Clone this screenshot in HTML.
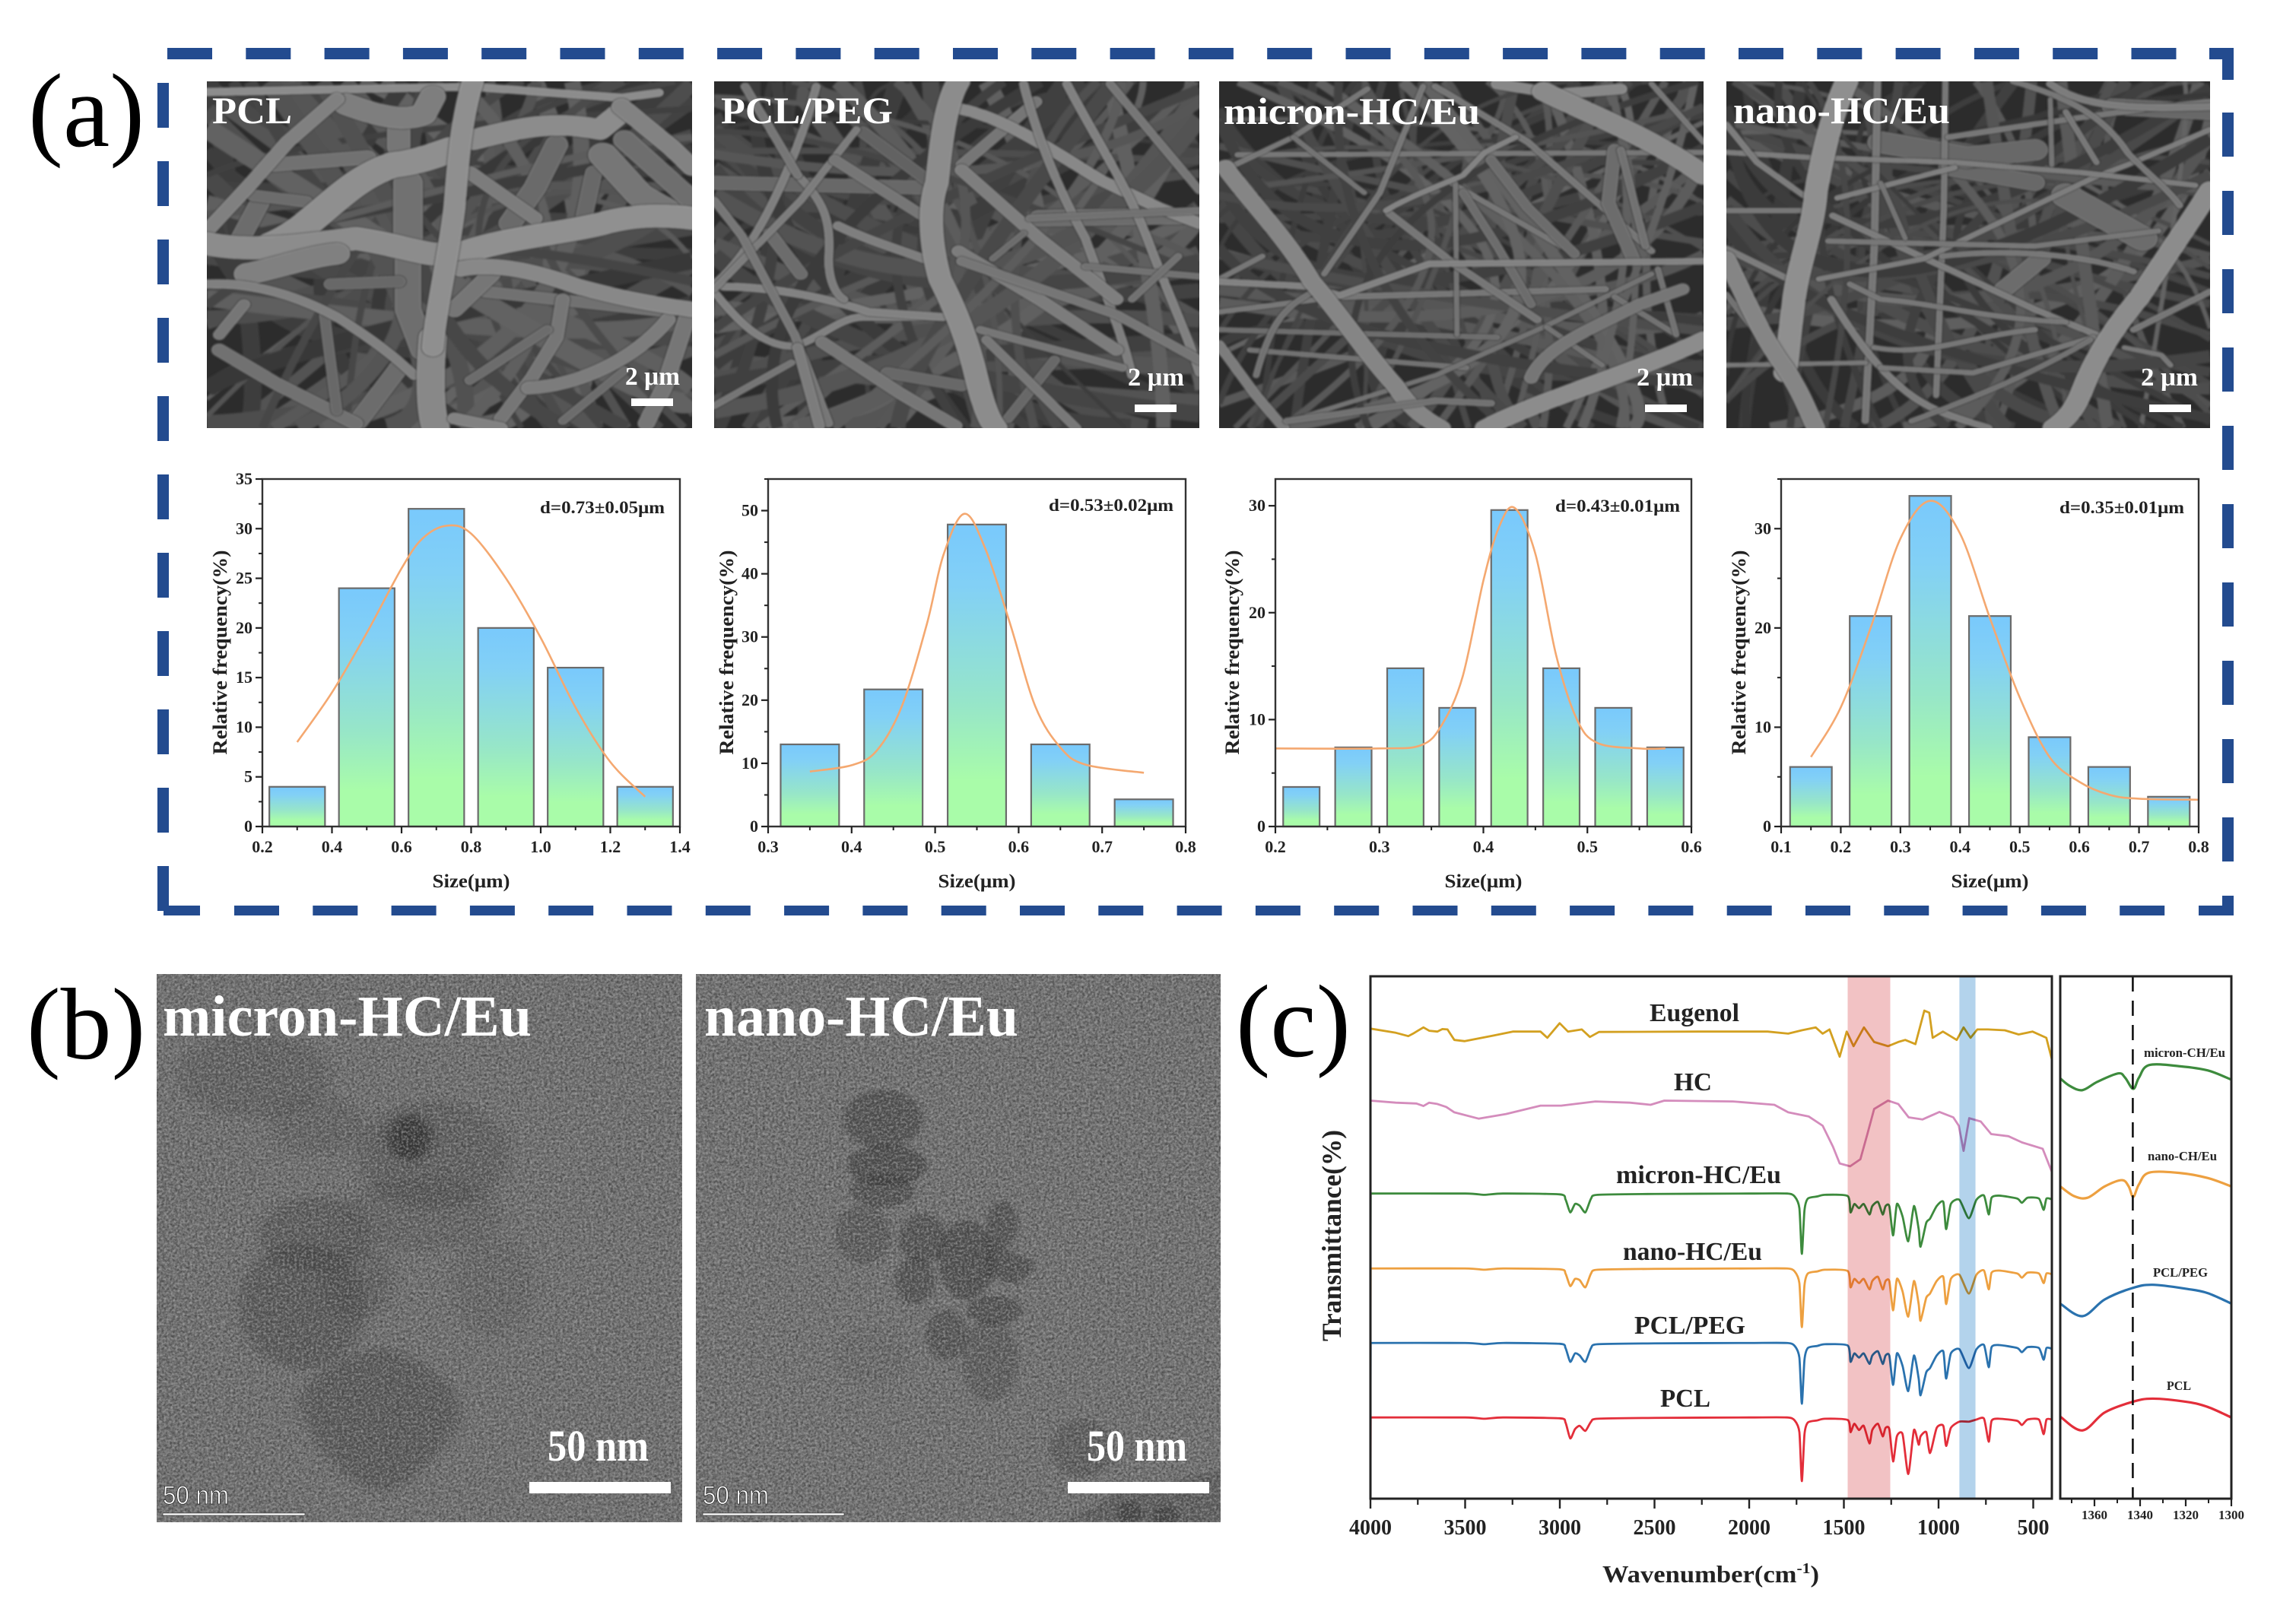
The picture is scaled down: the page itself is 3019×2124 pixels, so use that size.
<!DOCTYPE html>
<html>
<head>
<meta charset="utf-8">
<title>PCL / HC-Eu fibre characterisation figure</title>
<style>
html,body{margin:0;padding:0;background:#fff;width:3019px;height:2124px;overflow:hidden}
svg{display:block}
text{font-family:"Liberation Serif",serif}
.b{font-weight:bold}
.w{fill:#fff;font-weight:bold}
</style>
</head>
<body>
<svg id="root" width="3019" height="2124" viewBox="0 0 3019 2124" xmlns="http://www.w3.org/2000/svg">
<defs>
  <linearGradient id="barGrad" x1="0" y1="0" x2="0" y2="1">
    <stop offset="0" stop-color="#79c9fc"/>
    <stop offset="0.2" stop-color="#82d0f6"/>
    <stop offset="0.6" stop-color="#97e6c8"/>
    <stop offset="0.85" stop-color="#a9fca9"/>
    <stop offset="1" stop-color="#a9fca9"/>
  </linearGradient>
  <filter id="noise" x="0" y="0" width="100%" height="100%" color-interpolation-filters="sRGB">
    <feTurbulence type="fractalNoise" baseFrequency="0.3" numOctaves="2" seed="4"/>
    <feColorMatrix type="matrix" values="0 0 0 0 0.25  0 0 0 0 0.25  0 0 0 0 0.25  1.7 0 0 0 -0.55"/>
  </filter>
  <filter id="noiseLight" x="0" y="0" width="100%" height="100%" color-interpolation-filters="sRGB">
    <feTurbulence type="fractalNoise" baseFrequency="0.32" numOctaves="2" seed="11"/>
    <feColorMatrix type="matrix" values="0 0 0 0 0.68  0 0 0 0 0.68  0 0 0 0 0.68  1.5 0 0 0 -0.6"/>
  </filter>
  <filter id="soft"><feGaussianBlur stdDeviation="7"/></filter>
  <filter id="softSmall"><feGaussianBlur stdDeviation="3"/></filter>
  <filter id="semBlur"><feGaussianBlur stdDeviation="1.3"/></filter>
  <clipPath id="clipSem1"><rect x="272" y="107" width="638" height="456"/></clipPath>
  <clipPath id="clipSem2"><rect x="939" y="107" width="638" height="456"/></clipPath>
  <clipPath id="clipSem3"><rect x="1603" y="107" width="637" height="456"/></clipPath>
  <clipPath id="clipSem4"><rect x="2270" y="107" width="636" height="456"/></clipPath>
  <clipPath id="clipTem1"><rect x="206" y="1281" width="691" height="721"/></clipPath>
  <clipPath id="clipTem2"><rect x="915" y="1281" width="690" height="721"/></clipPath>
  <clipPath id="clipMain"><rect x="1802" y="1284" width="896" height="687"/></clipPath>
  <clipPath id="clipInset"><rect x="2709" y="1284" width="225" height="687"/></clipPath>
</defs>

<g id="frame"></g>

<text x="37" y="192" font-size="138">(a)</text>
<text x="35" y="1392" font-size="134">(b)</text>
<text x="1625" y="1389" font-size="136">(c)</text>

<g><rect x="272" y="107" width="638" height="456" fill="#2c2c2c"/><g id="sem1" clip-path="url(#clipSem1)" filter="url(#semBlur)"></g></g>
<g><rect x="939" y="107" width="638" height="456" fill="#2c2c2c"/><g id="sem2" clip-path="url(#clipSem2)" filter="url(#semBlur)"></g></g>
<g><rect x="1603" y="107" width="637" height="456" fill="#2c2c2c"/><g id="sem3" clip-path="url(#clipSem3)" filter="url(#semBlur)"></g></g>
<g><rect x="2270" y="107" width="636" height="456" fill="#2c2c2c"/><g id="sem4" clip-path="url(#clipSem4)" filter="url(#semBlur)"></g></g>

<text class="w" x="279" y="162" font-size="50" textLength="105" lengthAdjust="spacingAndGlyphs">PCL</text>
<text class="w" x="948" y="162" font-size="50" textLength="226" lengthAdjust="spacingAndGlyphs">PCL/PEG</text>
<text class="w" x="1609" y="163" font-size="50" textLength="337" lengthAdjust="spacingAndGlyphs">micron-HC/Eu</text>
<text class="w" x="2279" y="162" font-size="50" textLength="285" lengthAdjust="spacingAndGlyphs">nano-HC/Eu</text>

<text class="w" x="822" y="506" font-size="34" textLength="72" lengthAdjust="spacingAndGlyphs">2 μm</text>
<rect x="830" y="524" width="55" height="10" fill="#fff"/>
<text class="w" x="1483" y="507" font-size="34" textLength="74" lengthAdjust="spacingAndGlyphs">2 μm</text>
<rect x="1492" y="532" width="55" height="10" fill="#fff"/>
<text class="w" x="2152" y="507" font-size="34" textLength="74" lengthAdjust="spacingAndGlyphs">2 μm</text>
<rect x="2163" y="532" width="55" height="10" fill="#fff"/>
<text class="w" x="2815" y="507" font-size="34" textLength="75" lengthAdjust="spacingAndGlyphs">2 μm</text>
<rect x="2826" y="532" width="55" height="10" fill="#fff"/>

<g id="hist1"></g>
<g id="hist2"></g>
<g id="hist3"></g>
<g id="hist4"></g>

<g>
  <rect x="206" y="1281" width="691" height="721" fill="#767676"/>
  <g clip-path="url(#clipTem1)">
    <g transform="translate(0,1260) scale(1.046,0.551)" filter="url(#soft)" fill="#383838">
      <ellipse cx="320" cy="280" rx="95" ry="100" opacity="0.28"/>
      <ellipse cx="400" cy="400" rx="60" ry="70" opacity="0.22"/>
      <ellipse cx="545" cy="470" rx="95" ry="130" opacity="0.3"/>
      <ellipse cx="515" cy="430" rx="28" ry="55" fill="#1c1c1c" opacity="0.7"/>
      <ellipse cx="530" cy="610" rx="100" ry="90" opacity="0.22"/>
      <ellipse cx="395" cy="660" rx="70" ry="90" opacity="0.38"/>
      <ellipse cx="380" cy="830" rx="80" ry="150" opacity="0.44"/>
      <ellipse cx="450" cy="770" rx="45" ry="90" opacity="0.28"/>
      <ellipse cx="620" cy="780" rx="50" ry="120" opacity="0.15"/>
      <path d="M480 930 C560 970 590 1060 575 1120 C550 1190 510 1270 480 1275 C440 1260 395 1170 378 1080 C370 1010 420 950 480 930Z" opacity="0.42"/>
    </g>
    <rect x="206" y="1281" width="691" height="721" filter="url(#noise)"/>
    <rect x="206" y="1281" width="691" height="721" filter="url(#noiseLight)"/>
  </g>
</g>
<g>
  <rect x="915" y="1281" width="690" height="721" fill="#787878"/>
  <g clip-path="url(#clipTem2)">
    <g transform="translate(0,1260) scale(1.046,0.551)" filter="url(#softSmall)" fill="#2c2c2c">
      <ellipse cx="1110" cy="385" rx="50" ry="70" opacity="0.48"/>
      <ellipse cx="1115" cy="495" rx="50" ry="50" opacity="0.52"/>
      <ellipse cx="1110" cy="555" rx="40" ry="40" opacity="0.48"/>
      <ellipse cx="1085" cy="660" rx="35" ry="70" opacity="0.32"/>
      <ellipse cx="1160" cy="670" rx="30" ry="60" opacity="0.46"/>
      <ellipse cx="1215" cy="720" rx="35" ry="95" opacity="0.54"/>
      <path d="M1240 670 L1305 730 L1280 780 L1240 760Z" opacity="0.48"/>
      <ellipse cx="1260" cy="635" rx="20" ry="55" opacity="0.46"/>
      <ellipse cx="1150" cy="770" rx="25" ry="55" opacity="0.46"/>
      <ellipse cx="1190" cy="900" rx="26" ry="60" opacity="0.42"/>
      <ellipse cx="1250" cy="840" rx="35" ry="35" opacity="0.46"/>
      <ellipse cx="1245" cy="960" rx="35" ry="100" opacity="0.3"/>
      <ellipse cx="1095" cy="950" rx="45" ry="70" opacity="0.1"/>
      <ellipse cx="1360" cy="1170" rx="40" ry="70" opacity="0.3"/>
      <path d="M1340 1345 L1400 1280 L1535 1220 L1535 1345Z" opacity="0.3"/>
      <ellipse cx="1420" cy="1325" rx="16" ry="30" opacity="0.55"/>
      <ellipse cx="1465" cy="1330" rx="16" ry="25" opacity="0.55"/>
    </g>
    <rect x="915" y="1281" width="690" height="721" filter="url(#noise)"/>
    <rect x="915" y="1281" width="690" height="721" filter="url(#noiseLight)"/>
  </g>
</g>
<text class="w" x="214" y="1362" font-size="76" textLength="485" lengthAdjust="spacingAndGlyphs">micron-HC/Eu</text>
<text class="w" x="926" y="1362" font-size="76" textLength="413" lengthAdjust="spacingAndGlyphs">nano-HC/Eu</text>
<text class="w" x="720" y="1921" font-size="58" textLength="133" lengthAdjust="spacingAndGlyphs">50 nm</text>
<rect x="696" y="1949" width="186" height="15" fill="#fff"/>
<text class="w" x="1429" y="1921" font-size="58" textLength="132" lengthAdjust="spacingAndGlyphs">50 nm</text>
<rect x="1404" y="1949" width="186" height="15" fill="#fff"/>
<text x="214" y="1978" font-size="34" fill="#fff" stroke="#222" stroke-width="0.8" textLength="87" lengthAdjust="spacingAndGlyphs" style="font-family:'Liberation Sans',sans-serif">50 nm</text>
<rect x="214" y="1990" width="187" height="3" fill="#fff" stroke="#222" stroke-width="0.6"/>
<text x="924" y="1978" font-size="34" fill="#fff" stroke="#222" stroke-width="0.8" textLength="87" lengthAdjust="spacingAndGlyphs" style="font-family:'Liberation Sans',sans-serif">50 nm</text>
<rect x="924" y="1990" width="186" height="3" fill="#fff" stroke="#222" stroke-width="0.6"/>

<g id="ftir"></g>
<g id="inset"></g>

<script>
// ---------- Histogram data ----------
const pclBins = [0.3, 0.5, 0.7, 0.9, 1.1, 1.3];
const pclFreq = [4, 24, 32, 20, 16, 4];
const pclFitX = [0.3, 0.4, 0.5, 0.6, 0.66, 0.73, 0.8, 0.9, 1.0, 1.1, 1.2, 1.3];
const pclFitY = [8.5, 13.5, 19.5, 26, 29, 30.3, 29.5, 25, 19, 12, 6.5, 3];
const pclXTicks = ["0.2", "0.4", "0.6", "0.8", "1.0", "1.2", "1.4"];
const pclYTicks = [0, 5, 10, 15, 20, 25, 30, 35];

const pegBins = [0.35, 0.45, 0.55, 0.65, 0.75];
const pegFreq = [13, 21.7, 47.8, 13, 4.3];
const pegFitX = [0.35, 0.4, 0.43, 0.46, 0.49, 0.51, 0.535, 0.56, 0.59, 0.62, 0.65, 0.68, 0.75];
const pegFitY = [8.7, 9.7, 12, 19, 32, 43, 49.5, 44, 32, 19, 12.5, 9.8, 8.5];
const pegXTicks = ["0.3", "0.4", "0.5", "0.6", "0.7", "0.8"];
const pegYTicks = [0, 10, 20, 30, 40, 50];

const micronBins = [0.225, 0.275, 0.325, 0.375, 0.425, 0.475, 0.525, 0.575];
const micronFreq = [3.7, 7.4, 14.8, 11.1, 29.6, 14.8, 11.1, 7.4];
const micronFitX = [0.2, 0.3, 0.34, 0.36, 0.38, 0.4, 0.415, 0.43, 0.45, 0.47, 0.49, 0.51, 0.55, 0.575];
const micronFitY = [7.3, 7.3, 7.6, 9.5, 14, 23, 28, 29.8, 25.5, 16, 10, 7.8, 7.3, 7.3];
const micronXTicks = ["0.2", "0.3", "0.4", "0.5", "0.6"];
const micronYTicks = [0, 10, 20, 30];

const nanoBins = [0.15, 0.25, 0.35, 0.45, 0.55, 0.65, 0.75];
const nanoFreq = [6, 21.2, 33.3, 21.2, 9, 6, 3];
const nanoFitX = [0.15, 0.2, 0.25, 0.3, 0.35, 0.4, 0.45, 0.5, 0.55, 0.6, 0.65, 0.7, 0.8];
const nanoFitY = [7, 12, 20, 29, 32.8, 29.5, 21, 13, 7, 4.5, 3.2, 2.8, 2.7];
const nanoXTicks = ["0.1", "0.2", "0.3", "0.4", "0.5", "0.6", "0.7", "0.8"];
const nanoYTicks = [0, 10, 20, 30];

// ---------- FTIR data: wavenumber (cm-1) and arbitrary offset transmittance ----------
const ftirWave = [4000,3999,3500,3400,3300,3000,2970,2945,2920,2895,2865,2835,2800,2500,2000,1800,1760,1735,1722,1708,1690,1640,1600,1480,1465,1445,1420,1395,1365,1350,1320,1295,1280,1260,1240,1220,1190,1160,1130,1105,1095,1065,1045,1010,975,960,935,890,840,800,760,735,720,680,585,560,530,470,445,430,401,400];
const ftirPCL = [24,194,194,191,194,192,182,144,166,174,162,184,191,193,194,194,187,159,42,154,182,187,191,188,159,179,164,174,132,164,179,149,169,166,89,149,154,59,164,129,149,159,109,169,174,126,169,184,184,189,191,136,186,191,186,176,189,189,154,189,189,24];
const ftirPEG = [196,372,372,369,372,370,360,327,347,342,327,360,369,371,372,372,365,337,227,332,360,365,369,366,327,347,337,347,322,342,352,322,342,342,272,347,317,257,342,287,247,302,312,342,352,287,347,357,312,357,367,314,362,367,360,350,362,360,332,360,358,196];
const ftirNano = [376,550,550,547,550,548,538,508,525,522,505,538,547,549,550,550,543,515,410,510,538,543,547,544,505,525,515,525,500,520,530,500,520,520,450,525,495,435,520,465,425,480,490,520,530,465,525,535,490,535,545,500,540,545,538,528,540,538,515,538,536,376];
const ftirMicron = [551,729,729,726,729,727,715,684,704,700,684,717,726,728,729,729,722,694,585,689,717,722,726,723,684,704,694,704,679,699,709,679,699,699,629,704,674,615,699,644,602,659,669,699,709,644,704,714,670,714,724,679,719,724,717,707,719,717,690,717,715,551];
const hcWave = [4000,3866,3757,3720,3690,3647,3600,3557,3429,3284,3102,2993,2812,2630,2521,2448,2085,1867,1794,1685,1612,1558,1522,1467,1413,1376,1340,1267,1213,1158,1085,995,922,893,868,838,777,722,631,559,450,402,400];
const ftirHC = [951,946,944,938,946,943,936,923,908,919,939,939,949,946,941,951,949,941,923,913,891,841,801,794,811,871,931,951,943,911,906,924,911,891,831,909,901,871,866,851,836,781,700];
const eugWave = [4000,3866,3800,3775,3750,3720,3690,3647,3620,3593,3557,3502,3357,3248,3102,3066,3001,2957,2884,2841,2793,2267,1903,1794,1722,1649,1612,1576,1522,1485,1449,1394,1340,1267,1213,1176,1122,1075,1049,1031,977,904,868,831,795,740,650,577,504,431,402,400];
const ftirEug = [1123,1113,1105,1111,1118,1126,1118,1116,1122,1121,1096,1093,1106,1116,1116,1101,1136,1116,1121,1103,1115,1116,1116,1111,1119,1126,1111,1121,1056,1116,1081,1126,1091,1081,1091,1096,1086,1166,1161,1101,1116,1096,1126,1101,1121,1121,1119,1109,1116,1101,1050,1001];
const ftirXTicks = [4000, 3500, 3000, 2500, 2000, 1500, 1000, 500];
const ftirMinorTicks = [3750, 3250, 2750, 2250, 1750, 1250, 750];

const insetXTicks = [1360, 1340, 1320, 1300];
const insetMinorTicks = [1370, 1350, 1330, 1310];
const insetMicronX = [1375,1370.8,1365.3,1358.7,1349.6,1346.6,1343,1340.5,1336,1322.4,1310.3,1300];
const insetMicronT = [1004,986,976,996,1016,1006,979,1006,1036,1033,1023,1001];
const insetNanoX = [1375,1369,1363,1355.5,1348,1345,1343,1340.5,1336,1322.4,1310.3,1300];
const insetNanoT = [746,723,719,746,761,746,721,751,779,778,766,746];
const insetPegX = [1375,1365.3,1355.5,1343.5,1334.5,1319.3,1310.3,1300];
const insetPegT = [466,436,476,503,511,501,491,466];
const insetPclX = [1375,1365.3,1355.5,1343.5,1334.5,1319.3,1310.3,1300];
const insetPclT = [196,163,206,231,239,231,219,194];

const NS = 'http://www.w3.org/2000/svg';
function add(parent, tag, attrs, text) {
  const el = document.createElementNS(NS, tag);
  for (const k in attrs) el.setAttribute(k, attrs[k]);
  if (text !== undefined) el.textContent = text;
  parent.appendChild(el);
  return el;
}
function smooth(pts, div) {
  const k = div || 6;
  let d = 'M' + pts[0][0] + ' ' + pts[0][1];
  for (let i = 0; i < pts.length - 1; i++) {
    const p0 = pts[Math.max(i - 1, 0)], p1 = pts[i], p2 = pts[i + 1], p3 = pts[Math.min(i + 2, pts.length - 1)];
    d += ' C' + (p1[0] + (p2[0] - p0[0]) / k) + ' ' + (p1[1] + (p2[1] - p0[1]) / k) + ' ' +
      (p2[0] - (p3[0] - p1[0]) / k) + ' ' + (p2[1] - (p3[1] - p1[1]) / k) + ' ' + p2[0] + ' ' + p2[1];
  }
  return d;
}

// ---------- Dashed frame ----------
(function () {
  const g = document.getElementById('frame');
  const col = '#234b8f';
  function dash(x, y, w, h) {
    const el = add(g, 'rect', { x: x, y: y, width: w, height: h, fill: col });
    
    
  }
  for (let i = 0; i < 26; i++) dash(220 + i * 103.3, 63, 59, 15);
  dash(2905, 63, 32, 15);
  dash(215, 1191, 48, 13);
  for (let i = 0; i < 25; i++) dash(308 + i * 103.3, 1191, 59, 13);
  dash(2891, 1191, 46, 13);
  for (let i = 0; i < 10; i++) dash(207, 109 + i * 103, 15, 59);
  dash(207, 1139, 15, 59);
  dash(2922, 63, 15, 42);
  for (let i = 0; i < 10; i++) dash(2922, 148 + i * 103, 15, 58);
  dash(2922, 1178, 15, 26);
})();

// ---------- Histograms ----------
function histogram(id, prefix, box, xDom, yDom, bins, freq, barW, fitX, fitY, xTicks, yTicks, xMinor, yMinor, stat, statX, statY, titleX) {
  const g = document.getElementById(id);
  const sx = v => box.x0 + (v - xDom[0]) / (xDom[1] - xDom[0]) * (box.x1 - box.x0);
  const sy = v => box.y1 - (v - yDom[0]) / (yDom[1] - yDom[0]) * (box.y1 - box.y0);

  bins.forEach((c, i) => {
    const bar = add(g, 'rect', { x: sx(c - barW / 2), y: sy(freq[i]), width: sx(c + barW / 2) - sx(c - barW / 2), height: sy(0) - sy(freq[i]), fill: 'url(#barGrad)', stroke: '#6b6b6b', 'stroke-width': 2.2 });
    
    
  });

  const fit = add(g, 'path', { d: smooth(fitX.map((x, i) => [sx(x), sy(fitY[i])])), fill: 'none', stroke: '#f4a870', 'stroke-width': 2.6 });
  
  

  const border = add(g, 'rect', { x: box.x0, y: box.y0, width: box.x1 - box.x0, height: box.y1 - box.y0, fill: 'none', stroke: '#333', 'stroke-width': 2.4 });
  
  

  xTicks.forEach(t => {
    const v = parseFloat(t), x = sx(v);
    const tick = add(g, 'line', { x1: x, x2: x, y1: box.y1, y2: box.y1 + 9, stroke: '#222', 'stroke-width': 2.2 });
    
    
    const lab = add(g, 'text', { x: x, y: box.y1 + 34, 'font-size': 22, 'font-weight': 'bold', 'text-anchor': 'middle', fill: '#222' }, t);
    
    
  });
  xMinor.forEach(v => {
    const x = sx(v);
    const tick = add(g, 'line', { x1: x, x2: x, y1: box.y1, y2: box.y1 + 5, stroke: '#222', 'stroke-width': 2 });
    
    
  });
  yTicks.forEach(v => {
    const y = sy(v);
    const tick = add(g, 'line', { x1: box.x0 - 9, x2: box.x0, y1: y, y2: y, stroke: '#222', 'stroke-width': 2.2 });
    
    
    const lab = add(g, 'text', { x: box.x0 - 13, y: y + 7, 'font-size': 22, 'font-weight': 'bold', 'text-anchor': 'end', fill: '#222' }, String(v));
    
    
  });
  yMinor.forEach(v => {
    const y = sy(v);
    const tick = add(g, 'line', { x1: box.x0 - 5, x2: box.x0, y1: y, y2: y, stroke: '#222', 'stroke-width': 2 });
    
    
  });

  const xt = add(g, 'text', { x: (box.x0 + box.x1) / 2, y: 1167, 'font-size': 25, 'font-weight': 'bold', 'text-anchor': 'middle', fill: '#222', textLength: 102, lengthAdjust: 'spacingAndGlyphs' }, 'Size(μm)');
  
  
  const yt = add(g, 'text', { transform: 'translate(' + titleX + ',858) rotate(-90)', 'font-size': 26, 'font-weight': 'bold', 'text-anchor': 'middle', fill: '#222', textLength: 269, lengthAdjust: 'spacingAndGlyphs' }, 'Relative frequency(%)');
  
  
  const st = add(g, 'text', { x: statX, y: statY, 'font-size': 23, 'font-weight': 'bold', fill: '#222', textLength: 164, lengthAdjust: 'spacingAndGlyphs' }, stat);
  
  
}
const yBox = { y0: 630, y1: 1087 };
histogram('hist1', 'pcl', { x0: 345, x1: 894, y0: yBox.y0, y1: yBox.y1 }, [0.2, 1.4], [0, 35], pclBins, pclFreq, 0.16, pclFitX, pclFitY, pclXTicks, pclYTicks,
  [0.3, 0.5, 0.7, 0.9, 1.1, 1.3], [2.5, 7.5, 12.5, 17.5, 22.5, 27.5, 32.5], 'd=0.73±0.05μm', 710, 675, 298);
histogram('hist2', 'peg', { x0: 1010, x1: 1559, y0: yBox.y0, y1: yBox.y1 }, [0.3, 0.8], [0, 55], pegBins, pegFreq, 0.07, pegFitX, pegFitY, pegXTicks, pegYTicks,
  [0.35, 0.45, 0.55, 0.65, 0.75], [5, 15, 25, 35, 45, 55], 'd=0.53±0.02μm', 1379, 672, 964);
histogram('hist3', 'micron', { x0: 1677, x1: 2224, y0: yBox.y0, y1: yBox.y1 }, [0.2, 0.6], [0, 32.5], micronBins, micronFreq, 0.035, micronFitX, micronFitY, micronXTicks, micronYTicks,
  [0.25, 0.35, 0.45, 0.55], [5, 15, 25], 'd=0.43±0.01μm', 2045, 673, 1629);
histogram('hist4', 'nano', { x0: 2342, x1: 2891, y0: yBox.y0, y1: yBox.y1 }, [0.1, 0.8], [0, 35], nanoBins, nanoFreq, 0.07, nanoFitX, nanoFitY, nanoXTicks, nanoYTicks,
  [0.15, 0.25, 0.35, 0.45, 0.55, 0.65, 0.75], [5, 15, 25, 35], 'd=0.35±0.01μm', 2708, 675, 2295);

// ---------- FTIR main ----------
(function () {
  const g = document.getElementById('ftir');
  const x0 = 1802, x1 = 2698, y0 = 1284, y1 = 1971;
  const sx = w => x0 + (4000 - w) * 0.249;
  const sy = t => y1 - t / 1248 * (y1 - y0);
  const plot = add(g, 'g', { 'clip-path': 'url(#clipMain)' });
  
  
  function trace(wave, vals, color, name, edges) {
    // the first / last samples are the vertical drops at the spectrum ends, joined with straight segments
    const pts = wave.map((w, i) => [sx(w), sy(vals[i])]);
    let d;
    if (edges) {
      const n = pts.length;
      const mid = smooth(pts.slice(1, n - 1), 9);
      d = 'M' + pts[0][0] + ' ' + pts[0][1] + ' L' + mid.slice(1) + ' L' + pts[n - 1][0] + ' ' + pts[n - 1][1];
    } else {
      d = 'M' + pts.map(p => p[0].toFixed(1) + ' ' + p[1].toFixed(1)).join(' L');
    }
    const el = add(plot, 'path', { d: d, fill: 'none', stroke: color, 'stroke-width': 2.8, 'stroke-linejoin': 'round' });
    
    
  }
  trace(eugWave, ftirEug, '#d3a020', 'trace-eugenol', false);
  trace(hcWave, ftirHC, '#d48cbc', 'trace-hc', false);
  trace(ftirWave, ftirMicron, '#3d8b3d', 'trace-micron-hc-eu', true);
  trace(ftirWave, ftirNano, '#eda040', 'trace-nano-hc-eu', true);
  trace(ftirWave, ftirPEG, '#2a72ae', 'trace-pcl-peg', true);
  trace(ftirWave, ftirPCL, '#e32e3a', 'trace-pcl', true);

  const red = add(g, 'rect', { x: sx(1480), y: y0, width: sx(1255) - sx(1480), height: y1 - y0, fill: '#f2c2c4', style: 'mix-blend-mode:multiply' });
  
  
  const blue = add(g, 'rect', { x: sx(890), y: y0, width: sx(805) - sx(890), height: y1 - y0, fill: '#b3d3ec', style: 'mix-blend-mode:multiply' });
  
  

  const border = add(g, 'rect', { x: x0, y: y0, width: x1 - x0, height: y1 - y0, fill: 'none', stroke: '#222', 'stroke-width': 3 });
  
  

  ftirXTicks.forEach(w => {
    const tick = add(g, 'line', { x1: sx(w), x2: sx(w), y1: y1, y2: y1 + 13, stroke: '#222', 'stroke-width': 2.4 });
    
    
    const lab = add(g, 'text', { x: sx(w), y: 2018, 'font-size': 28, 'font-weight': 'bold', 'text-anchor': 'middle', fill: '#222' }, String(w));
    
    
  });
  ftirMinorTicks.forEach(w => {
    const tick = add(g, 'line', { x1: sx(w), x2: sx(w), y1: y1, y2: y1 + 8, stroke: '#222', 'stroke-width': 2.2 });
    
    
  });

  const xt = add(g, 'text', { x: 2107, y: 2081, 'font-size': 32, 'font-weight': 'bold', fill: '#222', textLength: 285, lengthAdjust: 'spacingAndGlyphs' });
  
  
  xt.textContent = 'Wavenumber(cm';
  const sup = add(xt, 'tspan', { dy: -12, 'font-size': 20 }, '-1');
  
  
  const close = add(xt, 'tspan', { dy: 12 }, ')');
  
  

  const yt = add(g, 'text', { transform: 'translate(1763,1625) rotate(-90)', 'font-size': 36, 'font-weight': 'bold', 'text-anchor': 'middle', fill: '#222', textLength: 278, lengthAdjust: 'spacingAndGlyphs' }, 'Transmittance(%)');
  
  

  function seriesLabel(txt, x, y, w, name) {
    const el = add(g, 'text', { x: x, y: y, 'font-size': 34, 'font-weight': 'bold', fill: '#222', textLength: w, lengthAdjust: 'spacingAndGlyphs' }, txt);
    
    
  }
  seriesLabel('Eugenol', 2169, 1343, 118, 'label-eugenol');
  seriesLabel('HC', 2201, 1434, 50, 'label-hc');
  seriesLabel('micron-HC/Eu', 2125, 1556, 217, 'label-micron-hc-eu');
  seriesLabel('nano-HC/Eu', 2134, 1657, 183, 'label-nano-hc-eu');
  seriesLabel('PCL/PEG', 2149, 1754, 146, 'label-pcl-peg');
  seriesLabel('PCL', 2183, 1850, 66, 'label-pcl');
})();

// ---------- FTIR inset ----------
(function () {
  const g = document.getElementById('inset');
  const x0 = 2709, x1 = 2934, y0 = 1284, y1 = 1971;
  const sx = w => x1 - (w - 1300) * 3.0;
  const sy = t => y1 - t / 1248 * (y1 - y0);
  const plot = add(g, 'g', { 'clip-path': 'url(#clipInset)' });
  
  
  function trace(xs, ts, color, name) {
    const el = add(plot, 'path', { d: smooth(xs.map((w, i) => [sx(w), sy(ts[i])])), fill: 'none', stroke: color, 'stroke-width': 3.2 });
    
    
  }
  trace(insetMicronX, insetMicronT, '#3d8b3d', 'inset-trace-micron');
  trace(insetNanoX, insetNanoT, '#eda040', 'inset-trace-nano');
  trace(insetPegX, insetPegT, '#2a72ae', 'inset-trace-pcl-peg');
  trace(insetPclX, insetPclT, '#e32e3a', 'inset-trace-pcl');

  const dash = add(g, 'line', { x1: sx(1343.2), x2: sx(1343.2), y1: y0, y2: y1, stroke: '#111', 'stroke-width': 2.6, 'stroke-dasharray': '20 12' });
  
  

  const border = add(g, 'rect', { x: x0, y: y0, width: x1 - x0, height: y1 - y0, fill: 'none', stroke: '#222', 'stroke-width': 3 });
  
  

  insetXTicks.forEach(w => {
    const tick = add(g, 'line', { x1: sx(w), x2: sx(w), y1: y1, y2: y1 + 10, stroke: '#222', 'stroke-width': 2.2 });
    
    
    const lab = add(g, 'text', { x: sx(w), y: 1998, 'font-size': 17, 'font-weight': 'bold', 'text-anchor': 'middle', fill: '#222' }, String(w));
    
    
  });
  insetMinorTicks.forEach(w => {
    const tick = add(g, 'line', { x1: sx(w), x2: sx(w), y1: y1, y2: y1 + 6, stroke: '#222', 'stroke-width': 2 });
    
    
  });
  function lab(txt, x, y, w, name) {
    const el = add(g, 'text', { x: x, y: y, 'font-size': 17, 'font-weight': 'bold', fill: '#222', textLength: w, lengthAdjust: 'spacingAndGlyphs' }, txt);
    
    
  }
  lab('micron-CH/Eu', 2819, 1390, 107, 'inset-label-micron');
  lab('nano-CH/Eu', 2824, 1526, 91, 'inset-label-nano');
  lab('PCL/PEG', 2831, 1679, 72, 'inset-label-pcl-peg');
  lab('PCL', 2849, 1828, 32, 'inset-label-pcl');
})();

// ---------- SEM micrograph texture (decorative fibres traced from the photos, not chart data) ----------
// Fibre coordinates use a 1568 x 1368 tracing grid scaled onto each photo.
function semPhoto(id, box, seed, fibres) {
  const g = document.getElementById(id);
  let s = seed;
  const rnd = () => { s = (s * 16807) % 2147483647; return s / 2147483647; };
  for (let i = 0; i < 70; i++) {
    const horiz = rnd() > 0.5;
    const a = rnd(), b = rnd(), c = rnd(), d = rnd();
    const x1 = horiz ? box.x : box.x + a * box.w, y1 = horiz ? box.y + a * box.h : box.y;
    const x2 = horiz ? box.x + box.w : box.x + b * box.w, y2 = horiz ? box.y + b * box.h : box.y + box.h;
    const gray = Math.round(56 + c * 44);
    const el = add(g, 'path', { d: 'M' + x1 + ' ' + y1 + ' Q' + (box.x + c * box.w) + ' ' + (box.y + d * box.h) + ' ' + x2 + ' ' + y2, fill: 'none', stroke: 'rgb(' + gray + ',' + gray + ',' + gray + ')', 'stroke-width': 5 + d * box.bgWidth });
    
    
  }
  const tf = 'translate(' + box.x + ',' + box.y + ') scale(' + (box.w / 1568) + ',' + (box.h / 1368) + ')';
  const top = add(g, 'g', { transform: tf, 'stroke-linecap': 'round', 'stroke-linejoin': 'round' });
  
  
  fibres.forEach(f => {
    const w = f[0], v = f[1] + 18, d = f[2];
    const shade = add(top, 'path', { d: d, fill: 'none', stroke: '#1e1e1e', 'stroke-width': w + 12, opacity: 0.55 });
    
    
    const edge = v + 38;
    const rim = add(top, 'path', { d: d, fill: 'none', stroke: 'rgb(' + edge + ',' + edge + ',' + edge + ')', 'stroke-width': w + 4 });
    
    
    const body = add(top, 'path', { d: d, fill: 'none', stroke: 'rgb(' + v + ',' + v + ',' + v + ')', 'stroke-width': w });
    
    
  });
}
semPhoto('sem1', { x: 272, y: 107, w: 638, h: 456, bgWidth: 22 }, 1234, [
  [70, 88, 'M1130 250 L1060 420 L980 560'],
  [50, 85, 'M1250 360 L1220 530'],
  [90, 100, 'M1280 290 L1400 450 L1500 520'],
  [70, 92, 'M1350 230 L1568 470'],
  [45, 105, 'M850 360 L1060 540'],
  [90, 95, 'M650 400 L650 620'],
  [80, 92, 'M650 700 L650 900 L700 1060'],
  [70, 100, 'M620 190 L620 260'],
  [60, 90, 'M170 480 L100 640'],
  [50, 95, 'M200 330 L520 300'],
  [40, 90, 'M150 450 L320 475'],
  [40, 85, 'M400 800 L620 790'],
  [40, 95, 'M900 830 L1500 910'],
  [55, 100, 'M800 900 L920 760'],
  [40, 100, 'M1150 860 L1130 1010 L1050 1170 L950 1330'],
  [45, 105, 'M1040 1210 C1200 1200 1380 1100 1490 940'],
  [50, 100, 'M1550 940 L1480 1200 L1420 1350'],
  [60, 90, 'M490 1340 L620 1130'],
  [45, 95, 'M40 1060 L220 1190 L480 1350'],
  [30, 85, 'M380 920 L420 1300'],
  [30, 90, 'M850 1180 L1100 980'],
  [25, 90, 'M1150 1340 L1350 1140'],
  [26, 122, 'M0 42 L810 22 L900 25 L1340 65 L1460 45'],
  [80, 108, 'M450 90 C560 140 640 160 700 130 L730 60'],
  [75, 122, 'M860 230 C1000 190 1100 150 1270 190 L1340 120'],
  [60, 112, 'M1340 100 L1500 260 L1568 340'],
  [45, 110, 'M0 590 L130 420 L260 240 L420 70'],
  [95, 125, 'M200 650 C350 580 430 400 600 330 C680 320 740 290 790 270'],
  [85, 122, 'M0 640 C150 680 350 640 480 620 C600 640 720 690 750 680'],
  [85, 126, 'M820 680 C950 620 1150 600 1280 560 C1400 520 1500 530 1568 540'],
  [55, 118, 'M820 740 C950 710 1080 760 1200 810 C1350 860 1450 880 1568 900'],
  [80, 110, 'M130 760 C220 740 330 690 420 680'],
  [30, 110, 'M0 800 C150 790 300 850 420 930 C550 1030 620 1100 670 1160'],
  [35, 100, 'M40 1000 L120 880'],
  [85, 118, 'M730 1010 C720 1150 720 1300 740 1368'],
  [65, 125, 'M860 0 C820 150 810 350 800 500 C780 700 740 900 730 1050'],
  [40, 112, 'M800 1330 L950 1368']
]);
semPhoto('sem2', { x: 939, y: 107, w: 638, h: 456, bgWidth: 20 }, 5678, [
  [50, 85, 'M0 400 L700 420'],
  [40, 80, 'M480 200 L700 400'],
  [40, 90, 'M180 600 L280 760'],
  [60, 90, 'M1050 540 L1568 530'],
  [40, 85, 'M560 1150 L800 1200'],
  [30, 85, 'M1100 1100 L950 1330'],
  [35, 100, 'M1040 80 L800 330'],
  [22, 110, 'M0 830 C80 950 150 1040 250 1045 C330 1030 400 930 480 930 L740 930'],
  [25, 112, 'M30 810 C200 810 380 860 500 910 L740 930'],
  [22, 105, 'M270 370 C350 470 380 540 370 700 C370 780 390 840 420 860'],
  [22, 108, 'M0 800 C100 700 200 500 300 150 L330 20'],
  [20, 105, 'M0 820 L280 470 L460 190'],
  [35, 100, 'M390 310 L700 550'],
  [28, 108, 'M400 570 C520 640 620 670 720 720'],
  [24, 100, 'M100 20 L270 370'],
  [24, 100, 'M0 470 L90 610 L260 1000 L370 1350'],
  [30, 105, 'M270 1050 L340 1360'],
  [40, 100, 'M350 1030 L600 1230 L780 1360'],
  [20, 98, 'M0 1280 L250 1110'],
  [38, 118, 'M800 110 C950 150 1100 280 1250 390 L1440 500 L1568 560'],
  [24, 108, 'M1000 10 C1040 200 1100 400 1200 620 C1270 860 1320 1000 1350 1160'],
  [24, 110, 'M1140 10 C1220 200 1330 400 1400 620 C1470 850 1530 1000 1568 1150'],
  [24, 100, 'M1280 10 L1568 430'],
  [40, 108, 'M800 350 L1050 620 L1300 860'],
  [40, 105, 'M790 670 L1050 860 L1300 1060'],
  [30, 100, 'M800 710 L1300 920 L1568 1100'],
  [24, 100, 'M860 980 L1320 1130'],
  [28, 102, 'M880 1020 L1170 1368'],
  [22, 95, 'M1020 540 L1568 510'],
  [20, 95, 'M1200 730 L1568 770'],
  [20, 95, 'M1350 860 L1500 690'],
  [18, 90, 'M900 700 L1000 600'],
  [70, 122, 'M790 0 C740 100 730 300 720 400 C690 500 700 650 730 780 C780 900 820 1020 850 1180 C870 1280 890 1340 910 1368']
]);
semPhoto('sem3', { x: 1603, y: 107, w: 637, h: 456, bgWidth: 12 }, 9012, [
  [14, 100, 'M60 290 L1568 280'],
  [14, 90, 'M0 980 L900 1010'],
  [14, 95, 'M100 1060 L800 1130'],
  [18, 100, 'M400 850 L1250 820'],
  [14, 100, 'M0 910 L320 860'],
  [12, 95, 'M230 1340 L700 1160 L1050 970 L1400 760'],
  [14, 100, 'M50 330 L240 220 L480 30'],
  [14, 100, 'M340 760 L520 440 L660 20'],
  [12, 95, 'M240 220 L470 440'],
  [18, 100, 'M700 20 L1000 240 L1300 560 L1400 670'],
  [14, 100, 'M750 400 L1150 680'],
  [30, 90, 'M880 310 L1000 500 L1150 680'],
  [24, 90, 'M790 440 L900 650 L1010 880'],
  [10, 95, 'M765 400 L770 1000'],
  [22, 100, 'M550 520 L760 720 L1030 940'],
  [12, 95, 'M1060 970 L1240 1120'],
  [14, 95, 'M1280 850 L1480 1000'],
  [14, 95, 'M1420 740 L1480 1000'],
  [40, 90, 'M1280 270 L1260 480 L1340 700'],
  [20, 95, 'M1300 270 L1380 650'],
  [14, 100, 'M0 780 L140 690'],
  [16, 95, 'M120 1160 C160 980 200 900 290 840'],
  [40, 100, 'M1010 1170 C1050 1050 1200 980 1360 880 L1500 820'],
  [14, 100, 'M1400 10 L1568 240'],
  [20, 112, 'M0 790 L300 810 L390 845 L680 720 L1568 710'],
  [14, 112, 'M540 510 C620 450 740 400 790 370 L860 280 L960 220'],
  [55, 115, 'M20 340 C90 460 220 620 300 790 C380 900 480 1080 570 1200 C620 1300 680 1340 720 1368'],
  [36, 118, 'M900 10 L1100 50 L1300 30'],
  [70, 120, 'M1050 40 C1200 130 1400 220 1568 370'],
  [60, 122, 'M860 1368 C1050 1250 1300 1170 1568 1020'],
  [30, 105, 'M0 1040 L120 1240 L210 1368'],
  [20, 95, 'M220 1340 L700 1260 L880 1270']
]);
semPhoto('sem4', { x: 2270, y: 107, w: 636, h: 456, bgWidth: 12 }, 3456, [
  [60, 85, 'M720 340 L1000 400'],
  [90, 90, 'M1100 450 L1350 620'],
  [80, 85, 'M500 240 L780 300 L1000 270'],
  [60, 90, 'M900 820 L1020 700'],
  [60, 85, 'M1250 100 L1568 120'],
  [18, 100, 'M490 0 L480 640 L450 1340'],
  [14, 100, 'M710 0 L705 500 L680 1240'],
  [18, 105, 'M345 530 L700 730 L1000 900 L1200 1000'],
  [14, 105, 'M300 780 L640 700 L1190 380 L1300 330 L1568 190'],
  [14, 100, 'M330 630 L1000 650 L1400 590'],
  [16, 100, 'M700 690 C900 660 1150 680 1320 750'],
  [14, 105, 'M0 280 L270 300 L740 320 L1150 360 L1520 410'],
  [14, 108, 'M360 460 L740 340'],
  [14, 100, 'M0 510 L250 510'],
  [16, 100, 'M720 220 C1000 170 1250 120 1568 80'],
  [16, 105, 'M0 170 L100 320 L250 450'],
  [18, 105, 'M0 660 L200 780'],
  [16, 100, 'M930 0 C1100 60 1220 130 1300 280 C1350 350 1430 420 1470 490'],
  [22, 105, 'M1050 10 C1150 100 1300 110 1568 100'],
  [10, 95, 'M1050 70 L1055 330'],
  [10, 95, 'M500 400 L580 620'],
  [14, 100, 'M1100 120 L1200 320'],
  [14, 100, 'M400 800 L500 860 C700 880 800 930 1100 950'],
  [14, 100, 'M480 1050 C650 1090 800 1000 1000 980'],
  [20, 105, 'M340 860 C420 1020 500 1150 600 1240 C680 1310 780 1340 850 1368'],
  [14, 100, 'M500 1130 L800 1150 L1190 1010'],
  [12, 100, 'M0 1120 L450 1110'],
  [14, 95, 'M600 1340 C800 1250 1000 1150 1180 1020'],
  [12, 100, 'M1290 1050 L1410 1080 L1440 1120'],
  [18, 100, 'M1320 980 L1568 830'],
  [14, 95, 'M0 840 L120 1030'],
  [70, 125, 'M390 0 C340 130 310 300 290 440 C280 600 230 720 215 900 C200 1040 200 1100 190 1150'],
  [55, 115, 'M0 700 C60 850 120 1020 190 1130 C250 1240 270 1320 290 1368'],
  [65, 122, 'M1568 430 C1500 560 1420 700 1340 850 C1250 980 1190 1100 1150 1230 C1120 1320 1080 1350 1060 1368']
]);
</script>
</svg>
</body>
</html>
